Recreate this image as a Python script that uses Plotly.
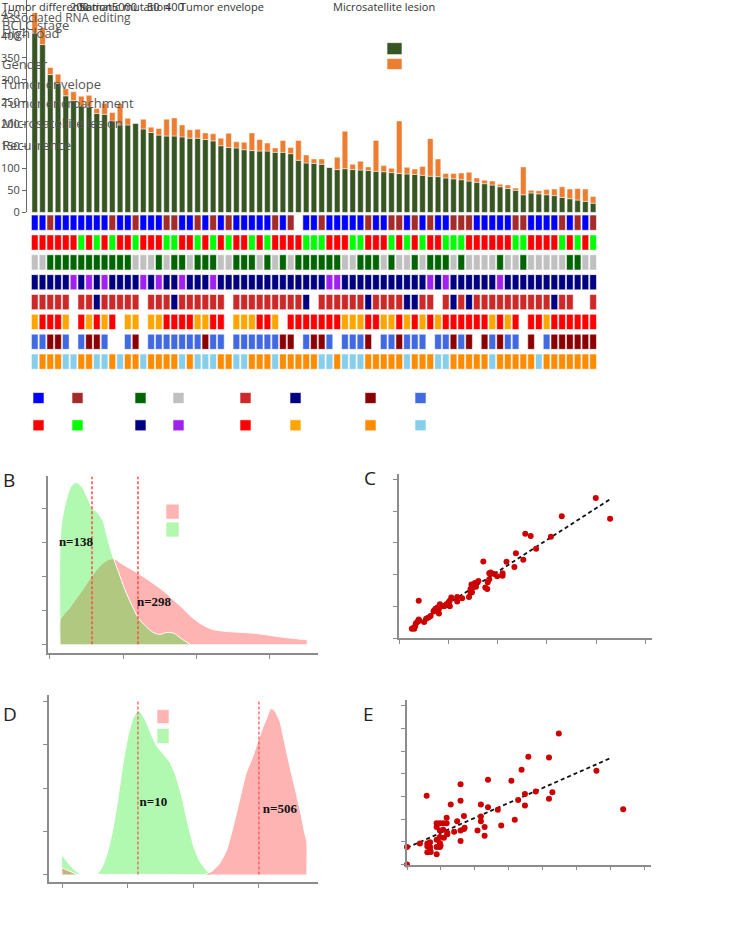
import plotly.graph_objects as go

W, H = 735, 939

# ---------------- data ----------------
edit_green = [406, 380, 312, 292, 264, 253, 241, 239, 224, 222, 207, 198, 198, 202, 189, 181, 175, 173, 173, 171,
              168, 168, 165, 162, 151, 147, 146, 142, 140, 139, 139, 136, 136, 133, 118, 112, 111, 109, 102, 97,
              99, 97, 96, 95, 93, 92, 90, 88, 87, 86, 84, 82, 81, 78, 76, 74, 71, 68, 65, 62,
              58, 54, 50, 40, 44, 42, 40, 38, 34, 31, 28, 25, 21]
edit_orange = [46, 38, 16, 21, 16, 20, 22, 26, 11, 25, 19, 48, 15, 0, 22, 12, 15, 38, 41, 27,
               19, 20, 15, 16, 17, 32, 14, 17, 40, 26, 18, 10, 27, 14, 45, 18, 10, 12, 0, 28,
               85, 12, 20, 8, 70, 14, 10, 119, 15, 12, 20, 85, 40, 10, 12, 15, 20, 10, 8, 9,
               6, 8, 5, 63, 6, 7, 12, 15, 24, 22, 26, 28, 15]

row1 = "aabaaaaaaab" "aab" "aaabb" "aab" "abab" "aaaaab" "ab." "aab" "aaa" + "a" + "abaabbababaabbbaaaaabbaaaababab"
row2 = "aaaaaababab" "aabaaabbaab" "ababaabab" "aaaabbbaaa" + "bbaaabababaabbbaaaaaabbaaaababab"
row3 = "aabbbbbbbbb" "bbaaababbab" "bbaabbbab" "ababbbbbba" + "a" + "bbbabaababbbabaaaabaabaaaaabbaa"
row4 = "aaaaababab" "aaaababaabaaab" "aaaaaaaaaaaaaa" "bba" + "aaaaaaaaaababaaaaaabaaaaaaaaaaaa"
row5 = "aaaaa.aabaa" "aaa.aaabaaa" "aaa.aaaaa" "aaaab.aaaa" + "aabaaaabbaa.abab" "aaaaaaaaaa" "baa..a"
row6 = "abbba.babab" ".aa.aabbbba" "abb.aaabb" "a.bbbbbbba" + "a" "abbaababab" "a" "bbbbbb" "abab" "." "bba" "bbbbbb"
row7 = "aabba.abba." ".ab.aaaaaaa" "baa.aaaaa" "abb.abba.a" + "a" "ab.aabaaa." "aabab.baba" "a.b.a" "bbbbbb"
row8 = "abbbaabbaab" "abbabbbbaba" "aabbaabbb" "abbbbbaaba" + "a" "abbbbbabbbaabbbbbabbbbbabbbbbbb"
tile_rows = [row1, row2, row3, row4, row5, row6, row7, row8]
tile_colors = [("#0000FF", "#A52A2A"), ("#FF0000", "#00FF00"), ("#C0C0C0", "#006400"), ("#000080", "#A020F0"),
               ("#CD2929", "#000080"), ("#FFA500", "#FF0000"), ("#4169E1", "#8B0000"), ("#87CEEB", "#FF8C00")]
legend_colors = [("#0000FF", "#A52A2A"), ("#FF0000", "#00FF00"), ("#006400", "#C0C0C0"), ("#000080", "#A020F0"),
                 ("#CD2929", "#000080"), ("#FF0000", "#FFA500"), ("#8B0000", "#4169E1"), ("#FF8C00", "#87CEEB")]

# Panel B densities
b_green_x = [0.137, 0.137, 0.164, 0.219, 0.288, 0.356, 0.425, 0.507, 0.575, 0.658, 0.726, 0.781, 0.849, 0.932,
             1.027, 1.123, 1.205, 1.315, 1.411, 1.507, 1.603, 1.699, 1.795, 1.918]
b_green_y = [0.0, 2.89, 3.62, 4.20, 4.64, 4.75, 4.66, 4.34, 4.02, 3.85, 3.62, 3.18, 2.65, 2.16,
             1.60, 1.14, 0.79, 0.52, 0.35, 0.29, 0.35, 0.32, 0.17, 0.0]
b_red_x = [0.137, 0.137, 0.274, 0.411, 0.548, 0.685, 0.795, 0.877, 0.986, 1.123, 1.260, 1.397, 1.534, 1.671,
           1.808, 1.945, 2.082, 2.219, 2.397, 2.603, 2.808, 3.014, 3.219, 3.425, 3.521, 3.521]
b_red_y = [0.0, 0.70, 1.08, 1.49, 1.92, 2.30, 2.48, 2.51, 2.36, 2.19, 2.01, 1.81, 1.60, 1.34,
           1.08, 0.79, 0.58, 0.44, 0.38, 0.35, 0.32, 0.26, 0.20, 0.15, 0.12, 0.0]
b_medians = [0.575, 1.205]
b_counts = ["n=138", "n=298"]
b_count_x = [0.356, 1.425]
b_count_y = [2.97, 1.22]

# Panel C scatter
c_x = [3.99, 4.28, 3.30, 2.56, 2.67, 3.08, 2.78, 2.37, 2.52, 2.18, 2.34, 1.71, 1.83, 1.86, 1.93, 2.10, 2.10, 1.99,
       1.83, 1.80, 1.61, 1.54, 1.47, 1.45, 1.50, 1.56, 1.48, 1.45, 1.42, 1.75, 1.79, 1.18, 1.18, 1.28, 1.06, 1.03,
       1.01, 0.97, 0.94, 0.91, 1.03, 0.98, 0.83, 0.82, 0.78, 0.74, 0.71, 0.81, 0.81, 0.77, 0.70, 0.64, 0.60, 0.55,
       0.51, 0.40, 0.40, 0.41, 0.37, 0.34, 0.33, 0.29, 0.26, 0.31]
c_y = [4.42, 3.76, 3.84, 3.29, 3.22, 3.20, 2.82, 2.68, 2.47, 2.41, 2.24, 2.42, 2.05, 2.07, 2.02, 2.05, 1.97, 1.95,
       1.86, 1.76, 1.80, 1.74, 1.69, 1.55, 1.60, 1.62, 1.45, 1.43, 1.30, 1.60, 1.55, 1.30, 1.16, 1.26, 1.28, 1.18,
       1.14, 1.08, 1.03, 1.01, 1.01, 1.05, 1.07, 1.01, 0.97, 0.93, 0.875, 0.93, 0.78, 0.875, 0.84, 0.70, 0.65, 0.61,
       0.51, 1.18, 0.59, 0.55, 0.51, 0.46, 0.385, 0.32, 0.30, 0.30]
c_fit_x = [0.26, 4.28]
c_fit_y = [0.35, 4.38]

# Panel D densities
d_green_x = [0.0, 0.0, 0.076, 0.167, 0.274, 0.40, 0.533, 0.624, 0.70, 0.776, 0.852, 0.928, 1.005, 1.081, 1.157,
             1.20, 1.28, 1.37, 1.446, 1.537, 1.644, 1.735, 1.826, 1.918, 2.009, 2.10, 2.207, 2.28]
d_green_y = [0.0, 0.44, 0.30, 0.14, 0.02, 0.0, 0.0, 0.21, 0.55, 1.06, 1.75, 2.55, 3.20, 3.61, 3.79,
             3.75, 3.54, 3.20, 2.97, 2.80, 2.60, 2.28, 1.79, 1.17, 0.64, 0.30, 0.09, 0.0]
d_red_x = [0.0, 0.0, 0.122, 0.228, 0.40, 1.5, 2.177, 2.28, 2.40, 2.51, 2.60, 2.71, 2.80, 2.91, 2.98, 3.06, 3.14,
           3.18, 3.24, 3.32, 3.39, 3.47, 3.56, 3.64, 3.70, 3.73, 3.73]
d_red_y = [0.0, 0.14, 0.07, 0.0, 0.0, 0.0, 0.0, 0.07, 0.25, 0.57, 1.06, 1.75, 2.32, 2.74, 3.06, 3.40, 3.70,
           3.84, 3.79, 3.54, 3.06, 2.51, 1.93, 1.40, 0.94, 0.76, 0.0]
d_medians = [1.157, 3.0]
d_counts = ["n=10", "n=506"]
d_count_x = [1.393, 3.32]
d_count_y = [1.66, 1.49]

# Panel E scatter
e_x = [0, 0, 0.38, 0.58, 0.60, 0.60, 0.60, 0.68, 0.68, 0.68, 0.70, 0.875, 0.875, 0.875, 0.875, 0.875, 0.97, 0.97,
       0.97, 0.97, 0.97, 0.99, 1.07, 1.07, 1.09, 1.17, 1.17, 1.19, 1.19, 1.29, 1.39, 1.48, 1.58, 1.58, 1.58, 1.58,
       1.68, 1.68, 1.70, 2.08, 2.18, 2.18, 2.18, 2.29, 2.29, 2.39, 2.39, 2.68, 2.78, 3.08, 3.18, 3.28, 3.38, 3.48,
       3.48, 3.58, 3.80, 4.19, 4.19, 4.29, 4.48, 5.59, 6.38]
e_y = [0.0, 0.77, 0.92, 3.03, 0.92, 0.80, 0.54, 0.98, 0.77, 0.63, 0.55, 1.82, 1.65, 1.09, 0.77, 0.45, 1.82, 1.50,
       1.21, 0.95, 0.77, 0.84, 1.82, 1.53, 1.18, 1.82, 2.06, 1.39, 1.33, 2.64, 1.44, 1.91, 3.54, 2.81, 1.50, 1.04,
       2.14, 1.56, 1.62, 1.50, 2.64, 2.11, 1.91, 1.65, 1.27, 3.73, 2.52, 2.41, 1.72, 3.69, 1.97, 2.84, 4.17, 3.11,
       2.60, 4.75, 3.22, 4.72, 2.90, 3.18, 5.77, 4.13, 2.44]
e_fit_x = [0.0, 6.04]
e_fit_y = [0.74, 4.71]

# ---------------- figure ----------------
def xd(px):
    return px / W


def yd(py):
    return 1 - py / H


N = len(edit_green)
idx = list(range(N))
fig = go.Figure()

GREEN, ORANGE = "#375623", "#ED7D31"
fig.add_trace(go.Bar(x=idx, y=edit_green, marker=dict(color=GREEN, line=dict(color="rgba(255,255,255,0.6)", width=0.8)),
                     width=0.72, xaxis="x", yaxis="y", showlegend=False))
fig.add_trace(go.Bar(x=idx, y=edit_orange, base=edit_green,
                     marker=dict(color=ORANGE, line=dict(color="rgba(255,255,255,0.6)", width=0.8)),
                     width=0.72, xaxis="x", yaxis="y", showlegend=False))

ROW_H, ROW_STEP, ROW_OFF = 15.3, 20.0, 2.7
for r, (codes, (ca, cb)) in enumerate(zip(tile_rows, tile_colors)):
    codes = (codes + "." * N)[:N]
    ys, cols = [], []
    for c in codes:
        if c == ".":
            ys.append(None)
            cols.append("white")
        else:
            ys.append(ROW_H)
            cols.append(ca if c == "a" else cb)
    fig.add_trace(go.Bar(x=idx, y=ys, base=[ROW_OFF + ROW_STEP * r] * N,
                         marker=dict(color=cols, line=dict(color="rgba(255,255,255,0.55)", width=1)),
                         width=0.86, xaxis="x2", yaxis="y2", showlegend=False))

PINK_F = "rgba(255,40,40,0.35)"
GREEN_F = "rgba(40,235,40,0.36)"
# Panel B
fig.add_trace(go.Scatter(x=b_red_x, y=b_red_y, mode="lines", fill="tozeroy", fillcolor=PINK_F,
                         line=dict(color="white", width=1, shape="spline", smoothing=0.8), xaxis="x3", yaxis="y3",
                         showlegend=False))
fig.add_trace(go.Scatter(x=b_green_x, y=b_green_y, mode="lines", fill="tozeroy", fillcolor=GREEN_F,
                         line=dict(color="white", width=1, shape="spline", smoothing=0.8), xaxis="x3", yaxis="y3",
                         showlegend=False))
for m in b_medians:
    fig.add_trace(go.Scatter(x=[m, m], y=[0, 4.93], mode="lines", line=dict(color="#FF4A4A", width=1.5, dash="3px,2px"),
                             xaxis="x3", yaxis="y3", showlegend=False))
fig.add_trace(go.Scatter(x=b_count_x, y=b_count_y, mode="text", text=["<b>%s</b>" % t for t in b_counts],
                         textfont=dict(family="Liberation Serif", size=13, color="#111"), xaxis="x3", yaxis="y3",
                         showlegend=False))

# Panel C
fig.add_trace(go.Scatter(x=c_fit_x, y=c_fit_y, mode="lines", line=dict(color="#111", width=1.8, dash="4px,3px"),
                         xaxis="x4", yaxis="y4", showlegend=False))
fig.add_trace(go.Scatter(x=c_x, y=c_y, mode="markers", marker=dict(color="#CC0000", size=6), xaxis="x4", yaxis="y4",
                         showlegend=False, cliponaxis=False))

# Panel D
fig.add_trace(go.Scatter(x=d_green_x, y=d_green_y, mode="lines", fill="tozeroy", fillcolor=GREEN_F,
                         line=dict(color="white", width=1, shape="spline", smoothing=0.5), xaxis="x5", yaxis="y5",
                         showlegend=False))
fig.add_trace(go.Scatter(x=d_red_x, y=d_red_y, mode="lines", fill="tozeroy", fillcolor=PINK_F,
                         line=dict(color="white", width=1, shape="spline", smoothing=0.5), xaxis="x5", yaxis="y5",
                         showlegend=False))
for m in d_medians:
    fig.add_trace(go.Scatter(x=[m, m], y=[0, 4.02], mode="lines", line=dict(color="#FF4A4A", width=1.2, dash="3px,2px"),
                             xaxis="x5", yaxis="y5", showlegend=False))
fig.add_trace(go.Scatter(x=d_count_x, y=d_count_y, mode="text", text=["<b>%s</b>" % t for t in d_counts],
                         textfont=dict(family="Liberation Serif", size=13, color="#111"), xaxis="x5", yaxis="y5",
                         showlegend=False))

# Panel E
fig.add_trace(go.Scatter(x=e_fit_x, y=e_fit_y, mode="lines", line=dict(color="#111", width=1.8, dash="4px,3px"),
                         xaxis="x6", yaxis="y6", showlegend=False))
fig.add_trace(go.Scatter(x=e_x, y=e_y, mode="markers", marker=dict(color="#CC0000", size=6), xaxis="x6", yaxis="y6",
                         showlegend=False, cliponaxis=False))

AX = dict(showline=True, linecolor="#8c8c8c", linewidth=1.6, ticks="outside", ticklen=4, tickcolor="#8c8c8c",
          showticklabels=False, showgrid=False, zeroline=False)

layout = dict(
    width=W, height=H, autosize=False, margin=dict(l=0, r=0, t=0, b=0),
    paper_bgcolor="white", plot_bgcolor="white", barmode="overlay", showlegend=False,
    xaxis=dict(domain=[xd(27), xd(597)], range=[-1, N - 0.5], visible=False, anchor="y"),
    yaxis=dict(domain=[yd(214), yd(0)], range=[0, 214 / 0.445], anchor="x", showline=True, linecolor="#666",
               linewidth=1, ticks="outside", ticklen=4, tickcolor="#666", dtick=50, showgrid=False, zeroline=False,
               tickfont=dict(family="Open Sans", size=11, color="#444")),
    xaxis2=dict(domain=[xd(27), xd(597)], range=[-1, N - 0.5], visible=False, anchor="y2"),
    yaxis2=dict(domain=[yd(376), yd(214)], range=[162, 0], visible=False, anchor="x2"),
    xaxis3=dict(domain=[xd(48), xd(318)], range=[-0.027, 3.67], anchor="y3", dtick=1, tick0=0, **AX),
    yaxis3=dict(domain=[yd(658), yd(480)], range=[-0.26, 4.93], anchor="x3", dtick=1, tick0=0, **AX),
    xaxis4=dict(domain=[xd(399), xd(652)], range=[0, 5.13], anchor="y4", dtick=1, tick0=0, **AX),
    yaxis4=dict(domain=[yd(643), yd(478)], range=[0, 5.16], anchor="x4", dtick=1, tick0=0, **AX),
    xaxis5=dict(domain=[xd(49), xd(318)], range=[-0.198, 3.90], anchor="y5", dtick=1, tick0=0, **AX),
    yaxis5=dict(domain=[yd(889), yd(700)], range=[-0.184, 4.16], anchor="x5", dtick=1, tick0=0, **AX),
    xaxis6=dict(domain=[xd(407), xd(651)], range=[0, 7.2], anchor="y6", dtick=1, tick0=0, **AX),
    yaxis6=dict(domain=[yd(871), yd(705)], range=[0, 7.26], anchor="x6", dtick=1, tick0=0, **AX),
)
fig.update_layout(**layout)

shapes = []


def square(x0, y0, x1, y1, color):
    shapes.append(dict(type="rect", xref="paper", yref="paper", x0=xd(x0), x1=xd(x1), y0=yd(y1), y1=yd(y0),
                       fillcolor=color, line=dict(color="rgba(255,255,255,0.6)", width=1), layer="above"))


# top legend swatches
square(387, 43, 402, 55, GREEN)
square(387, 59, 402, 70, ORANGE)
# tile legends
group_x = [(33, 72), (135, 173), (240, 290), (365, 415)]
for g, (xa, xb) in enumerate(group_x):
    for k, (y0, y1) in enumerate([(395.5, 406.5), (423, 434)]):
        ca, cb = legend_colors[2 * g + k]
        square(xa, y0, xa + 11, y1, ca)
        square(xb, y0, xb + 11, y1, cb)
# density legends
square(166, 508, 179, 523, "#FFB3B3")
square(166, 526, 179, 541, "#B3F7B0")
square(157, 715, 169, 729, "#FFB3B3")
square(157, 734, 169, 749, "#B3F7B0")
fig.update_layout(shapes=shapes)

ann = []


def label(text, x, y, size=19, color="#222", family="Open Sans", xanchor="left"):
    ann.append(dict(text=text, x=xd(x), y=yd(y), xref="paper", yref="paper", showarrow=False, xanchor=xanchor,
                    yanchor="middle", font=dict(family=family, size=size, color=color)))


label("B", 1, 484)
label("C", 362, 482)
label("D", 1, 719)
label("E", 361, 719)
# overlapping header labels of the top panel
grey = "#555"
label("Recurrence", 0, 146, 13, grey)
label("Microsatellite lesion", 0, 124, 13, grey)
label("Tumor encroachment", 0, 104, 13, grey)
label("Tumor envelope", 0, 85, 13, grey)
label("Gender", 0, 64, 13, grey)
label("High load", 0, 33, 13, grey)
label("BCLC stage", 0, 25, 13, grey)
label("Associated RNA editing", 0, 18, 12, grey)
label("Tumor differentiation", 0, 7, 11, "#333")
label("200", 68, 7, 11, "#333")
label("Somatic mutation", 77, 7, 11, "#333")
label("5000", 110, 7, 11, "#333")
label("50", 145, 7, 11, "#333")
label("400", 163, 7, 11, "#333")
label("Tumor envelope", 178, 7, 11, "#333")
label("Microsatellite lesion", 331, 7, 11, "#333")
fig.update_layout(annotations=ann)

fig.write_html("out.html", config={"displayModeBar": False},
               post_script="document.body.style.margin='0';document.body.style.overflow='hidden';")
